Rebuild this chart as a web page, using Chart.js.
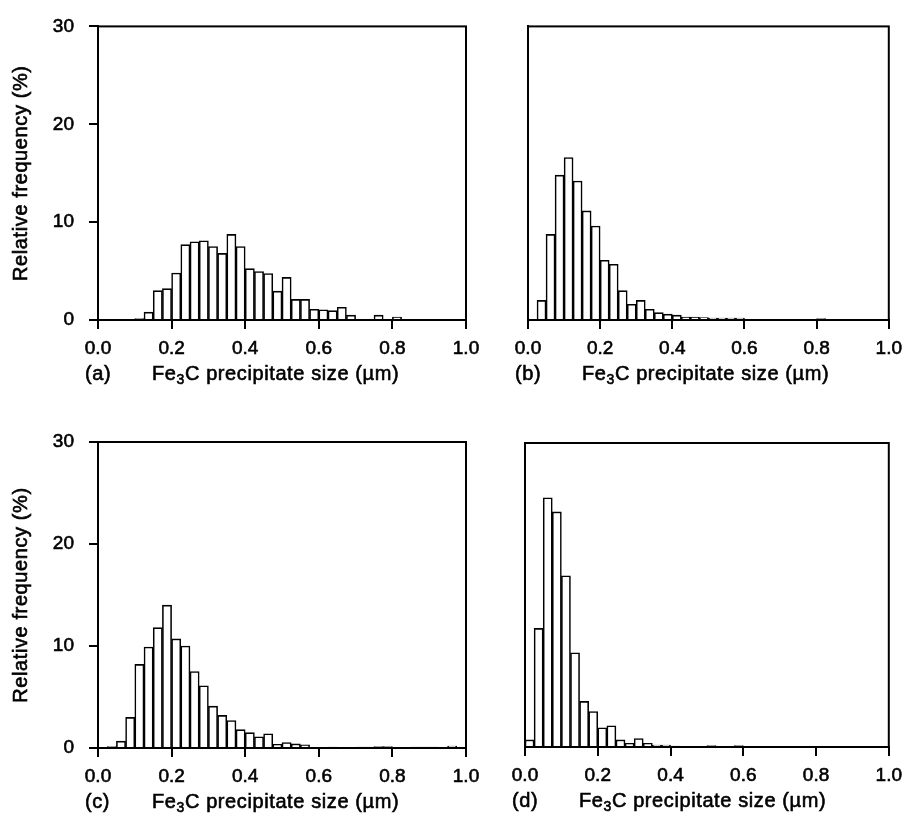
<!DOCTYPE html>
<html>
<head>
<meta charset="utf-8">
<script src="https://cdn.jsdelivr.net/npm/chart.js@4.4.1/dist/chart.umd.min.js"></script>
<style>
    html, body { margin: 0; padding: 0; background: #fff; }
    #wrap { position: relative; width: 910px; height: 833px; }
    #wrap canvas { position: absolute; left: 0; top: 0; }
</style>
</head>
<body>
<div id="wrap">
    <canvas id="panelA" width="910" height="833"></canvas>
    <canvas id="panelB" width="910" height="833"></canvas>
    <canvas id="panelC" width="910" height="833"></canvas>
    <canvas id="panelD" width="910" height="833"></canvas>
</div>
<script>
// ======================================
// DATA (relative frequency per 0.025 um class, 0.0 -> 1.0)
// ======================================
const binWidth = 0.025;
const xTicks = [0, 0.2, 0.4, 0.6, 0.8, 1.0];
const yTicks = [0, 10, 20, 30];

const freqA = [0, 0, 0, 0.1, 0.15, 0.8, 3.0, 3.2, 4.8, 7.7,
               8.0, 8.1, 7.5, 6.8, 8.75, 7.5, 5.25, 4.95, 4.75, 2.95,
               4.35, 2.1, 2.1, 1.1, 1.05, 0.95, 1.3, 0.5, 0.1, 0.1,
               0.5, 0.05, 0.3, 0.1, 0, 0.1, 0.1, 0.1, 0.1, 0];

const freqB = [0, 2.0, 8.75, 14.8, 16.6, 14.2, 11.15, 9.6, 6.1, 5.7,
               3.0, 1.6, 2.0, 1.1, 0.75, 0.6, 0.5, 0.3, 0.3, 0.25,
               0.2, 0.2, 0.2, 0.2, 0.1, 0.1, 0.1, 0.1, 0.1, 0.1,
               0.1, 0.05, 0.15, 0, 0, 0, 0, 0, 0, 0];

const freqC = [0, 0.13, 0.67, 3.0, 8.2, 9.9, 11.8, 14.0, 10.7, 10.0,
               7.5, 6.1, 4.1, 3.2, 2.7, 1.8, 1.5, 1.1, 1.4, 0.37,
               0.53, 0.4, 0.3, 0.05, 0.05, 0.1, 0, 0, 0.1, 0.1,
               0.15, 0.15, 0.05, 0, 0.1, 0.1, 0.1, 0, 0.2, 0];

const freqD = [0.7, 11.7, 24.6, 23.2, 16.9, 9.3, 4.5, 3.5, 1.9, 2.1,
               0.7, 0.37, 0.83, 0.37, 0.2, 0.2, 0.1, 0.05, 0.05, 0.05,
               0.15, 0.05, 0.05, 0.15, 0, 0, 0, 0, 0, 0,
               0, 0, 0, 0, 0, 0, 0, 0, 0, 0];

const yTitle = 'Relative frequency (%)';

// ======================================
// LAYOUT (plot box of each panel, in page pixels)
// ======================================
const panels = [
    { id: 'panelA', data: freqA, tag: '(a)', yLabels: true,  box: { left: 98,  top: 17,  right: 466, bottom: 320 } },
    { id: 'panelB', data: freqB, tag: '(b)', yLabels: false, box: { left: 528, top: 16,  right: 891, bottom: 320 } },
    { id: 'panelC', data: freqC, tag: '(c)', yLabels: true,  box: { left: 98,  top: 442, right: 466, bottom: 748 } },
    { id: 'panelD', data: freqD, tag: '(d)', yLabels: false, box: { left: 525, top: 443, right: 889, bottom: 747 } }
];

const FONT = '"Liberation Sans", Arial, Helvetica, sans-serif';
const Y_SCALE_W = 80;
const X_SCALE_H = 60;
const TEXT_STROKE = 0.6; // printed text is a bit heavier than regular

// put text with a thin outline so it looks like the scanned original
function inkText(ctx, txt, x, y) {
    ctx.fillText(txt, x, y);
    ctx.strokeText(txt, x, y);
}

// frame + axis titles drawn on top of the chart
const framePlugin = {
    id: 'frame',
    afterDraw(chart, args, opts) {
        const { ctx, chartArea: a } = chart;
        ctx.save();
        ctx.strokeStyle = '#000';
        ctx.lineWidth = 2;
        ctx.strokeRect(a.left, a.top, a.right - a.left, a.bottom - a.top);

        ctx.fillStyle = '#000';
        ctx.lineWidth = TEXT_STROKE;
        ctx.textBaseline = 'middle';
        if ('letterSpacing' in ctx) ctx.letterSpacing = '0.6px';

        // x title: (a)   Fe3C precipitate size (um)
        const ty = a.bottom + 54;
        ctx.font = '20px ' + FONT;
        ctx.textAlign = 'left';
        inkText(ctx, opts.tag, a.left - 13, ty);

        let x = a.left + 54;
        inkText(ctx, 'Fe', x, ty);
        x += ctx.measureText('Fe').width;
        ctx.font = '14px ' + FONT;
        inkText(ctx, '3', x, ty + 6);
        x += ctx.measureText('3').width;
        ctx.font = '20px ' + FONT;
        inkText(ctx, 'C precipitate size (\u00b5m)', x, ty);

        // y title only on the left panels
        if (opts.yLabels) {
            ctx.translate(21, (a.top + a.bottom) / 2);
            ctx.rotate(-Math.PI / 2);
            ctx.textAlign = 'center';
            inkText(ctx, yTitle, 0, 0);
        }
        ctx.restore();
    }
};

function makePanel(p) {
    const pts = p.data.map((v, i) => ({ x: (i + 0.5) * binWidth, y: v }));
    const b = p.box;

    return new Chart(document.getElementById(p.id), {
        type: 'bar',
        data: {
            datasets: [{
                data: pts,
                backgroundColor: '#fff',
                borderColor: '#000',
                borderWidth: 1.6,
                barPercentage: 1,
                categoryPercentage: 1
            }]
        },
        options: {
            responsive: false,
            animation: false,
            devicePixelRatio: 1,
            layout: {
                padding: {
                    left: b.left - Y_SCALE_W,
                    top: b.top,
                    right: 910 - b.right,
                    bottom: 833 - b.bottom - X_SCALE_H
                }
            },
            plugins: {
                legend: { display: false },
                tooltip: { enabled: false },
                frame: { tag: p.tag, yLabels: p.yLabels }
            },
            scales: {
                x: {
                    type: 'linear',
                    min: 0,
                    max: 1,
                    offset: false,
                    afterBuildTicks: s => { s.ticks = xTicks.map(v => ({ value: v })); },
                    afterFit: s => { s.height = X_SCALE_H; },
                    grid: { offset: false, drawOnChartArea: false, drawTicks: true, tickLength: 9, color: '#000', lineWidth: 2 },
                    border: { display: true, color: '#000', width: 2 },
                    ticks: {
                        color: '#000',
                        textStrokeColor: '#000',
                        textStrokeWidth: TEXT_STROKE,
                        padding: 8,
                        maxRotation: 0,
                        font: { family: FONT, size: 19 },
                        callback: v => Number(v).toFixed(1)
                    }
                },
                y: {
                    min: 0,
                    max: 30,
                    afterBuildTicks: s => { s.ticks = yTicks.map(v => ({ value: v })); },
                    afterFit: s => { s.width = Y_SCALE_W; },
                    grid: { drawOnChartArea: false, drawTicks: p.yLabels, tickLength: 9, color: '#000', lineWidth: 2 },
                    border: { display: true, color: '#000', width: 2 },
                    ticks: {
                        color: '#000',
                        textStrokeColor: '#000',
                        textStrokeWidth: TEXT_STROKE,
                        padding: 15,
                        font: { family: FONT, size: 19 },
                        callback: v => p.yLabels ? String(v) : ''
                    }
                }
            }
        },
        plugins: [framePlugin]
    });
}

panels.forEach(makePanel);
</script>
</body>
</html>
